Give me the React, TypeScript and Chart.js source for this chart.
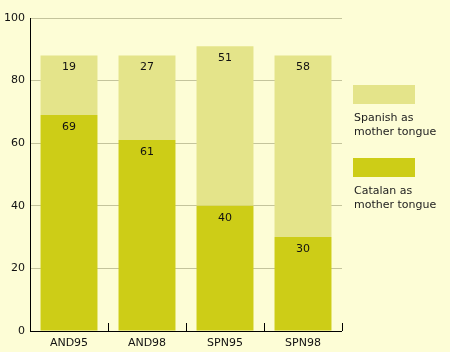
import React, { useEffect, useRef } from "react";
import { Chart, registerables } from "chart.js";

Chart.register(...registerables);

const categories = ["AND95", "AND98", "SPN95", "SPN98"];
const catalanValues = [69, 61, 40, 30];
const spanishValues = [19, 27, 51, 58];
const seriesNames = ["Catalan as\nmother tongue", "Spanish as\nmother tongue"];
const yTicks = [0, 20, 40, 60, 80, 100];

const BG = "#fdfdd6";
const CATALAN = "#cdcd17";
const SPANISH = "#e4e48a";
const FONT = "'DejaVu Sans', Verdana, sans-serif";

export default function App() {
  const ref = useRef<HTMLCanvasElement | null>(null);
  useEffect(() => {
    document.body.style.margin = "0";
    const canvas = ref.current!;
    const labelPlugin = {
      id: "valueLabels",
      afterDatasetsDraw(chart: any) {
        const ctx = chart.ctx;
        ctx.save();
        ctx.font = `11px ${FONT}`;
        ctx.fillStyle = "#111";
        ctx.textAlign = "center";
        ctx.textBaseline = "middle";
        chart.data.datasets.forEach((ds: any, di: number) => {
          const meta = chart.getDatasetMeta(di);
          meta.data.forEach((el: any, i: number) => {
            ctx.fillText(String(ds.data[i]), el.x, el.y + 12);
          });
        });
        ctx.restore();
      },
    };
    const tickPlugin = {
      id: "innerTicks",
      afterDraw(chart: any) {
        const ctx = chart.ctx;
        const xs = chart.scales.x;
        const area = chart.chartArea;
        ctx.save();
        ctx.strokeStyle = "#000";
        ctx.lineWidth = 1;
        ctx.beginPath();
        const n = xs.ticks.length;
        for (let i = 0; i < n; i++) {
          let px: number;
          if (i < n - 1) px = (xs.getPixelForTick(i) + xs.getPixelForTick(i + 1)) / 2;
          else px = area.right;
          const x = Math.round(px) + 0.5;
          ctx.moveTo(x, area.bottom);
          ctx.lineTo(x, area.bottom - 8);
        }
        ctx.moveTo(area.left, Math.round(area.bottom) + 0.5);
        ctx.lineTo(area.right, Math.round(area.bottom) + 0.5);
        ctx.stroke();
        ctx.restore();
      },
    };
    const legendPlugin = {
      id: "sideLegend",
      afterDraw(chart: any) {
        const ctx = chart.ctx;
        ctx.save();
        const order = [1, 0];
        const boxTops = [85, 158];
        order.forEach((di, k) => {
          const ds = chart.data.datasets[di];
          const top = boxTops[k];
          ctx.fillStyle = ds.backgroundColor;
          ctx.fillRect(353, top, 62, 19);
          ctx.fillStyle = "#222";
          ctx.font = `11px ${FONT}`;
          ctx.textAlign = "left";
          ctx.textBaseline = "middle";
          const lines = String(ds.label).split("\n");
          lines.forEach((ln, j) => ctx.fillText(ln, 354, top + 33 + j * 14));
        });
        ctx.restore();
      },
    };
    const bgPlugin = {
      id: "bg",
      beforeDraw(chart: any) {
        const ctx = chart.ctx;
        ctx.save();
        ctx.fillStyle = BG;
        ctx.fillRect(0, 0, chart.width, chart.height);
        ctx.restore();
      },
    };
    const chart = new Chart(canvas, {
      type: "bar",
      data: {
        labels: categories,
        datasets: [
          { label: seriesNames[0], data: catalanValues, backgroundColor: CATALAN },
          { label: seriesNames[1], data: spanishValues, backgroundColor: SPANISH },
        ],
      },
      options: {
        animation: false,
        responsive: false,
        maintainAspectRatio: false,
        layout: { padding: { top: 18, right: 108, left: 0, bottom: 0 } },
        datasets: { bar: { categoryPercentage: 1, barPercentage: 0.73 } },
        plugins: { legend: { display: false }, tooltip: { enabled: false } },
        scales: {
          x: {
            stacked: true,
            grid: { display: false, drawTicks: false },
            border: { display: false },
            ticks: { color: "#111", font: { family: FONT, size: 11 }, padding: 6 },
            afterFit(s: any) { s.height = 21; },
          },
          y: {
            stacked: true,
            min: 0,
            max: 100,
            afterBuildTicks(s: any) { s.ticks = yTicks.map((v) => ({ value: v })); },
            grid: { color: "#c4c49c", drawTicks: false },
            border: { display: true, color: "#000", width: 1 },
            ticks: { color: "#111", font: { family: FONT, size: 11 }, padding: 5 },
            afterFit(s: any) { s.width = 30; },
          },
        },
      },
      plugins: [bgPlugin, labelPlugin, tickPlugin, legendPlugin],
    } as any);
    return () => chart.destroy();
  }, []);
  return (
    <div style={{ position: "fixed", left: 0, top: 0, width: 450, height: 352, background: BG }}>
      <canvas ref={ref} width={450} height={352} style={{ width: 450, height: 352, display: "block" }} />
    </div>
  );
}
